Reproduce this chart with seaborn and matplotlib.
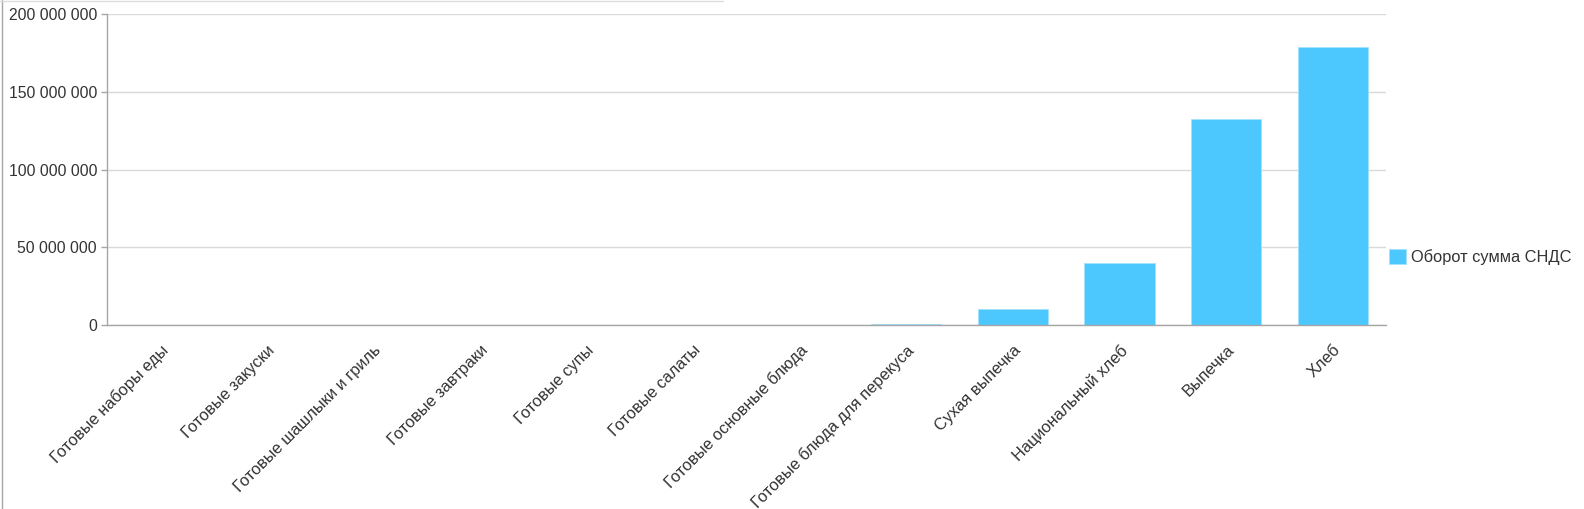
import numpy as np
import pandas as pd
import matplotlib
matplotlib.use("Agg")
import matplotlib.pyplot as plt
from matplotlib.ticker import FuncFormatter, FixedLocator
import seaborn as sns

categories = ["Готовые наборы еды", "Готовые закуски", "Готовые шашлыки и гриль",
              "Готовые завтраки", "Готовые супы", "Готовые салаты",
              "Готовые основные блюда", "Готовые блюда для перекуса",
              "Сухая выпечка", "Национальный хлеб", "Выпечка", "Хлеб"]
turnover = [0, 0, 0, 0, 0, 0, 300000, 800000, 10100000, 39700000, 132300000, 179000000]
series_name = "Оборот сумма СНДС"

df = pd.DataFrame({"cat": categories, "val": turnover})

sns.set_style("white")
plt.rcParams["font.family"] = ["Liberation Sans", "DejaVu Sans"]

W, H = 1584, 509
fig = plt.figure(figsize=(W / 100, H / 100), dpi=100)
ax = fig.add_axes([106.7 / W, 1 - 325 / H, 1279.3 / W, 311 / H])

sns.barplot(data=df, x="cat", y="val", color="#4dc8ff", saturation=1, width=0.66,
            edgecolor="#a3e2ff", linewidth=0.6, label=series_name, ax=ax)

ax.set_ylim(0, 200000000)
ax.set_xlim(-0.5, len(categories) - 0.5)
ax.set_yticks(np.arange(0, 200000001, 50000000))
ax.yaxis.set_major_formatter(FuncFormatter(lambda v, p: f"{int(v):,}".replace(",", " ")))
ax.grid(axis="y", color="#d9d9d9", linewidth=1)
ax.set_axisbelow(True)

for s in ["top", "right"]:
    ax.spines[s].set_visible(False)
for s in ["left", "bottom"]:
    ax.spines[s].set_color("#a6a6a6")
    ax.spines[s].set_linewidth(1)

ax.set_xlabel("")
ax.set_ylabel("")
ax.set_xticks(range(len(categories)))
ax.set_xticklabels(categories, rotation=45, ha="right", rotation_mode="anchor")
ax.tick_params(axis="x", length=0, pad=12.5, labelsize=11.8, labelcolor="#333333")
ax.xaxis.set_minor_locator(FixedLocator(np.arange(-0.5, len(categories), 1.0)))
ax.tick_params(axis="x", which="minor", length=4.5, color="#a6a6a6", width=1)
ax.tick_params(axis="y", length=4.5, color="#a6a6a6", width=1, pad=2.4,
               labelsize=11.3, labelcolor="#333333", left=True)

ax.legend(loc="center left", bbox_to_anchor=(1.002, 0.219), frameon=False,
          borderpad=0, borderaxespad=0, fontsize=11.8,
          handlelength=1.08, handleheight=1.08, handletextpad=0.27,
          labelcolor="#333333")

# outer frame remnants
fig.add_artist(plt.Line2D([2.3 / W, 2.3 / W], [0, 1], color="#a6a6a6", linewidth=1))
fig.add_artist(plt.Line2D([0, 723 / W], [1 - 0.5 / H, 1 - 0.5 / H], color="#dcdcdc", linewidth=1))

fig.savefig("out.png", dpi=100, facecolor="white")
